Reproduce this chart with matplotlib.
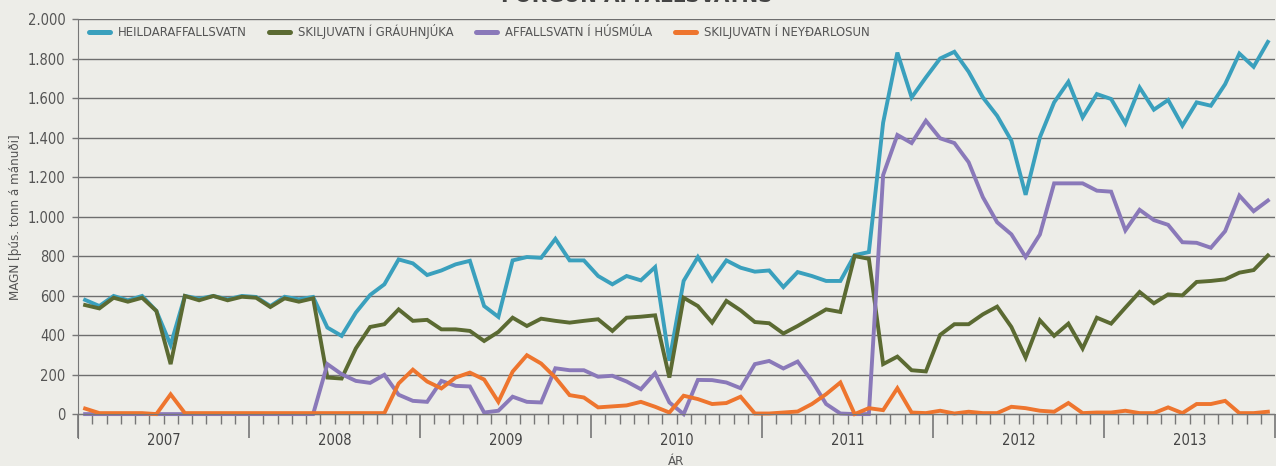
import numpy as np
import matplotlib
matplotlib.use('Agg')
import matplotlib.pyplot as plt
from matplotlib.ticker import FuncFormatter, FixedLocator

plt.rcParams['font.family'] = ['DejaVu Sans']
plt.rcParams['font.stretch'] = 'condensed'

# monthly values, jan 2007 - dec 2013 (thous. tonnes / month)
years = [2007, 2008, 2009, 2010, 2011, 2012, 2013]

heildar = [578, 547, 598, 576, 598, 522, 350, 598, 584, 598, 581, 598,
           593, 547, 594, 581, 593, 438, 396, 514, 603, 657, 783, 763,
           704, 727, 758, 776, 547, 492, 778, 795, 791, 887, 778, 778,
           699, 657, 699, 677, 744, 270, 674, 795, 677, 778, 741, 721,
           727, 643, 719, 699, 674, 674, 805, 820, 1475, 1830, 1603, 1704,
           1800, 1834, 1733, 1603, 1510, 1384, 1110, 1401, 1578, 1682, 1502, 1620,
           1595, 1472, 1653, 1541, 1590, 1460, 1578, 1561, 1670, 1825, 1758, 1884]

graeuhnjuka = [552, 535, 589, 569, 589, 522, 253, 598, 576, 598, 576, 594,
               589, 542, 586, 569, 586, 185, 180, 333, 441, 455, 530, 472,
               477, 429, 429, 421, 370, 416, 488, 446, 483, 472, 463, 472,
               480, 421, 488, 493, 500, 185, 589, 547, 463, 573, 525, 466,
               460, 408, 446, 488, 530, 517, 800, 786, 253, 291, 222, 216,
               401, 455, 455, 505, 544, 441, 286, 475, 396, 458, 332, 488,
               458, 539, 618, 561, 606, 601, 669, 674, 682, 716, 729, 803]

husmula = [0, 0, 0, 0, 0, 0, 0, 0, 0, 0, 0, 0,
           0, 0, 0, 0, 0, 253, 202, 168, 158, 199, 98, 67,
           62, 168, 143, 140, 8, 17, 88, 62, 59, 232, 222, 222,
           189, 194, 165, 126, 207, 59, 0, 173, 172, 160, 131, 253,
           269, 231, 266, 168, 51, 3, 0, 0, 1210, 1413, 1372, 1485,
           1396, 1372, 1275, 1098, 971, 910, 795, 909, 1168, 1168, 1168, 1131,
           1126, 930, 1034, 982, 958, 870, 867, 842, 926, 1106, 1027, 1081]

neydarlosun = [28, 5, 5, 5, 5, 0, 100, 5, 5, 5, 5, 5,
               5, 5, 5, 5, 5, 5, 5, 5, 5, 5, 155, 225,
               165, 130, 185, 210, 175, 62, 215, 298, 256, 185, 96, 84,
               34, 39, 44, 62, 37, 8, 93, 76, 51, 56, 88, 3,
               3, 8, 13, 51, 101, 160, 0, 30, 20, 131, 8, 5,
               17, 3, 12, 5, 5, 37, 30, 17, 12, 56, 5, 8,
               8, 17, 5, 5, 34, 5, 51, 51, 67, 5, 5, 12]

labels = ['HEILDARAFFALLSVATN', 'SKILJUVATN Í GRÁUHNJÚKA',
          'AFFALLSVATN Í HÚSMÚLA', 'SKILJUVATN Í NEYÐARLOSUN']
colors = ['#3aa0bd', '#5b6a32', '#8a79b9', '#ee752e']

bg = '#ededE8'
txt = '#555555'

months = np.arange(len(heildar))

fig = plt.figure(figsize=(12.76, 4.66), dpi=100, facecolor=bg)
ax = fig.add_axes([78/1276, 28/466, 1197/1276, 419/466], facecolor=bg)

for series, lab, col in zip([heildar, graeuhnjuka, husmula, neydarlosun], labels, colors):
    ax.plot(months, series, '-', color=col, lw=2.8, label=lab, solid_joinstyle='miter')

ax.set_xlim(-0.5, len(months) - 0.5)
ax.set_ylim(-121, 2000)

# y axis
ax.yaxis.set_major_locator(FixedLocator(np.arange(0, 2001, 200)))
ax.yaxis.set_major_formatter(FuncFormatter(lambda v, p: f"{int(v):,}".replace(',', '.')))
ax.grid(axis='y', color='#6e6e6e', lw=1.0)
ax.set_axisbelow(True)
ax.tick_params(axis='y', length=4, width=1, color='#777777', labelcolor=txt,
               labelsize=10.5, pad=5)
ax.set_ylabel('MAGN [þús. tonn á mánuði]', color=txt, fontsize=9.5)
ax.yaxis.set_label_coords(-0.047, 0.527)

# x axis at zero, month ticks short, year ticks long
ax.spines['top'].set_visible(False)
ax.spines['right'].set_visible(False)
ax.spines['bottom'].set_position(('data', 0))
ax.spines['bottom'].set_color('#777777')
ax.spines['left'].set_color('#777777')
ax.xaxis.set_major_locator(FixedLocator(np.arange(-0.5, len(months), 12)))
ax.xaxis.set_minor_locator(FixedLocator(np.arange(-0.5, len(months), 1)))
ax.tick_params(axis='x', which='major', length=17, width=1.2, color='#777777', labelbottom=False)
ax.tick_params(axis='x', which='minor', length=7, width=1, color='#777777')

for k, yr in enumerate(years):
    ax.text(12*k + 5.5, -0.005, str(yr), transform=ax.get_xaxis_transform(),
            ha='center', va='center', color='#444444', fontsize=10.5)

ax.set_xlabel('ÁR', color=txt, fontsize=9.5)
ax.xaxis.set_label_coords(0.5, -0.041)

leg = ax.legend(loc='center left', bbox_to_anchor=(0.009, 0.969), ncol=4, frameon=False,
                borderpad=0, borderaxespad=0, handlelength=1.6, handletextpad=0.6,
                columnspacing=1.75, prop={'size': 9.4, 'stretch': 'condensed'})
for line in leg.get_lines():
    line.set_linewidth(3.6)
    line.set_solid_capstyle('round')
for t in leg.get_texts():
    t.set_color(txt)

fig.text(0.499, 1 - 2/466, 'FÖRGUN AFFALLSVATNS', ha='center', va='baseline',
         fontsize=16, fontweight='bold', color='#444444')

fig.savefig('out.png', dpi=100, facecolor=bg)
